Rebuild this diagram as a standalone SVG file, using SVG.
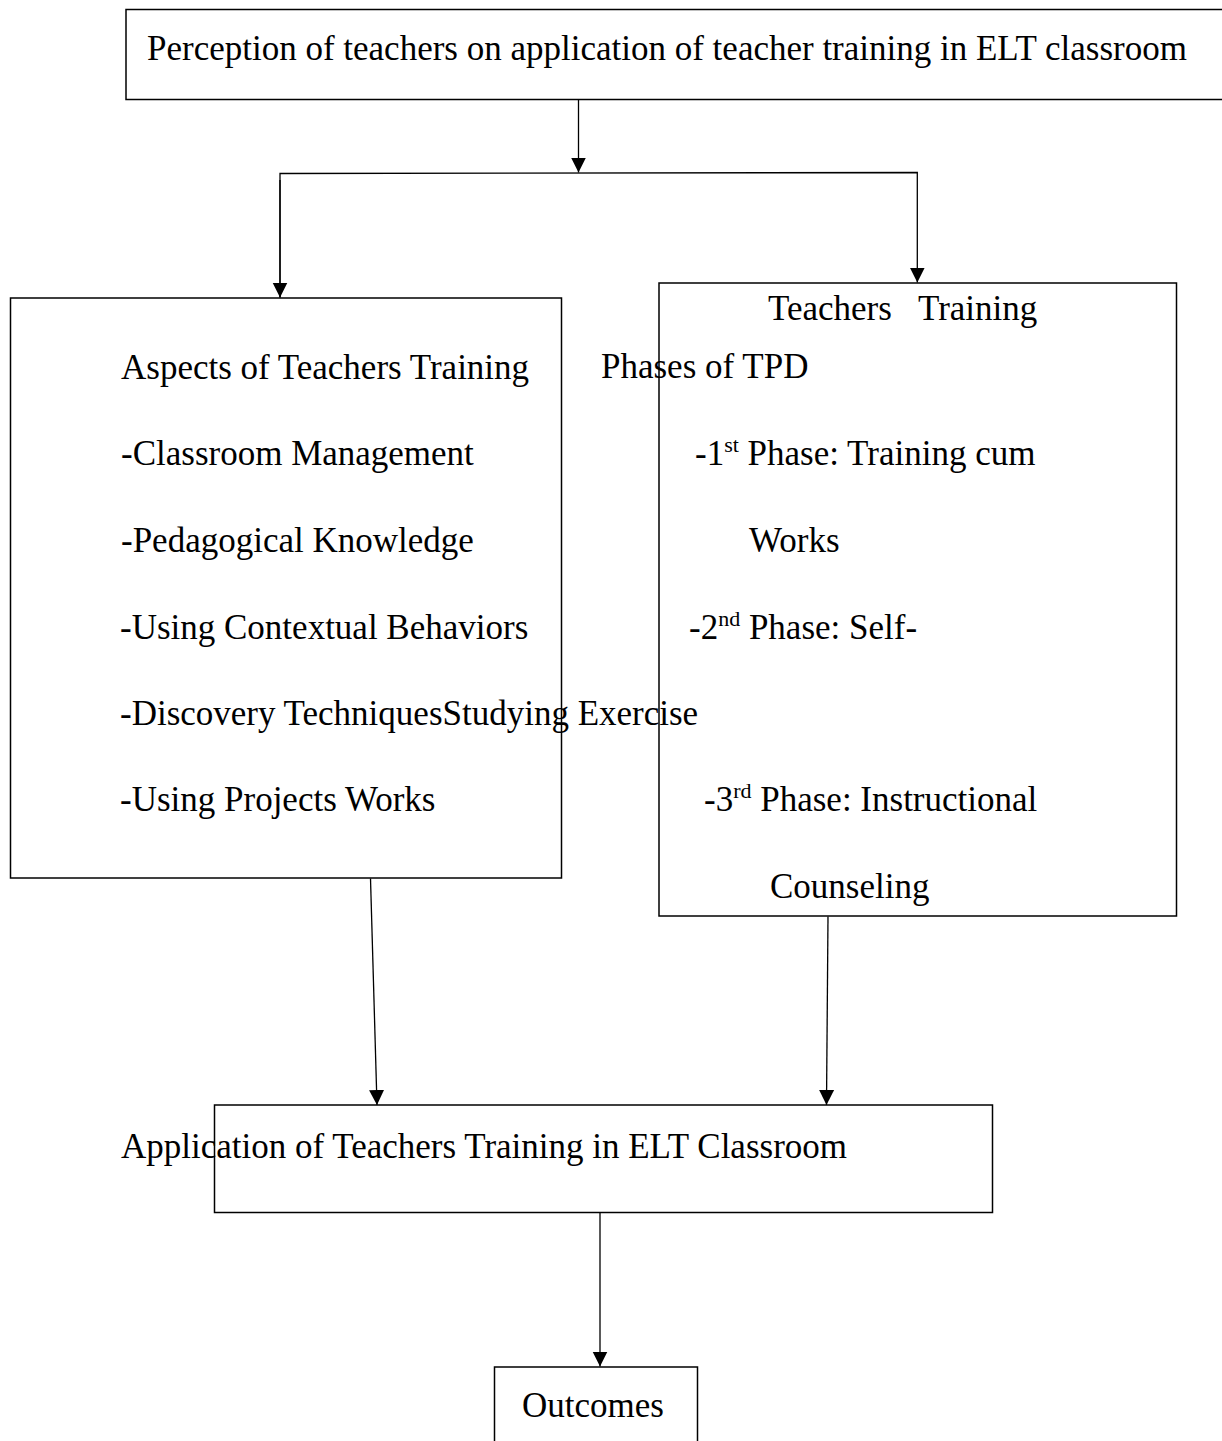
<svg xmlns="http://www.w3.org/2000/svg" width="1222" height="1441" viewBox="0 0 1222 1441">
<style>
  .box { fill: none; stroke: #000; stroke-width: 1.5; }
  .t { font-family: "Liberation Serif", "Times New Roman", serif; font-size: 35px; fill: #000; }
  .sup { font-size: 22px; }
  .conn { fill: none; stroke: #000; stroke-width: 1.3; }
</style>
<defs>
  <marker id="arr" markerUnits="userSpaceOnUse" markerWidth="16" markerHeight="16" viewBox="0 0 16 16" refX="15" refY="8" orient="auto">
    <path d="M0,0.5 L15,8 L0,15.5 Z" fill="#000"/>
  </marker>
</defs>
<rect width="1222" height="1441" fill="#fff"/>

<g id="connectors">
  <line class="conn" x1="578.5" y1="100" x2="578.5" y2="172.5" marker-end="url(#arr)"/>
  <polyline class="conn" points="280,297.5 280,173.5 917.3,172.5 917.3,282.5" marker-end="url(#arr)"/>
  <line class="conn" x1="280" y1="180" x2="280" y2="297.5" marker-end="url(#arr)"/>
  <line class="conn" x1="370.5" y1="878.5" x2="377" y2="1105" marker-end="url(#arr)"/>
  <line class="conn" x1="828" y1="916.5" x2="826.5" y2="1105" marker-end="url(#arr)"/>
  <line class="conn" x1="600" y1="1212.5" x2="600" y2="1366.5" marker-end="url(#arr)"/>
</g>

<g id="node-perception">
  <rect class="box" x="126" y="9.5" width="1110" height="90"/>
  <text class="t" x="147" y="60">Perception of teachers on application of teacher training in ELT classroom</text>
</g>

<g id="node-aspects">
  <rect class="box" x="10.5" y="298" width="551" height="580"/>
  <text class="t" x="121" y="379">Aspects of Teachers Training</text>
  <text class="t" x="121" y="465">-Classroom Management</text>
  <text class="t" x="121" y="552">-Pedagogical Knowledge</text>
  <text class="t" x="120" y="639">-Using Contextual Behaviors</text>
  <text class="t" x="120" y="725">-Discovery TechniquesStudying Exercise</text>
  <text class="t" x="120" y="811">-Using Projects Works</text>
</g>

<g id="node-phases">
  <rect class="box" x="659" y="283" width="517.5" height="633"/>
  <text class="t" x="768" y="320">Teachers<tspan x="918">Training</tspan></text>
  <text class="t" x="601" y="378">Phases of TPD</text>
  <text class="t" x="695" y="465">-1<tspan class="sup" dy="-13">st</tspan><tspan dy="13"> Phase: Training cum</tspan></text>
  <text class="t" x="749" y="552">Works</text>
  <text class="t" x="689" y="639">-2<tspan class="sup" dy="-13">nd</tspan><tspan dy="13"> Phase: Self-</tspan></text>
  <text class="t" x="704" y="811">-3<tspan class="sup" dy="-13">rd</tspan><tspan dy="13"> Phase: Instructional</tspan></text>
  <text class="t" x="770" y="898">Counseling</text>
</g>

<g id="node-application">
  <rect class="box" x="214.5" y="1105" width="778" height="107.5"/>
  <text class="t" x="121" y="1158">Application of Teachers Training in ELT Classroom</text>
</g>

<g id="node-outcomes">
  <rect class="box" x="494.5" y="1367" width="203" height="100"/>
  <text class="t" x="522" y="1417">Outcomes</text>
</g>
</svg>
